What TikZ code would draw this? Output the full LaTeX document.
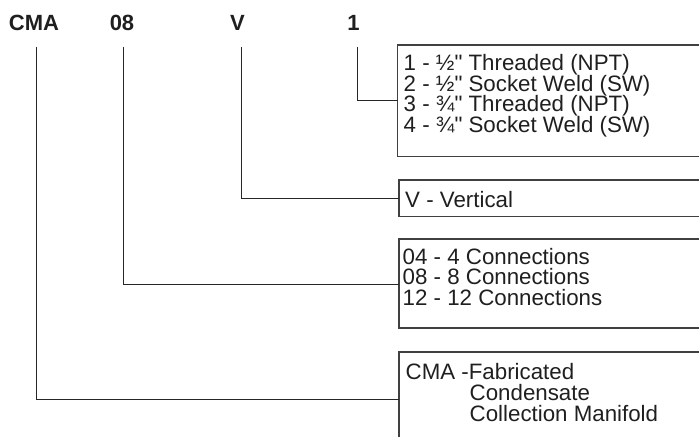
\documentclass[tikz,border=0pt]{standalone}
\usepackage{fontspec}
\setmainfont{Liberation Sans}[Ligatures=TeXOff]
\begin{document}
\begin{tikzpicture}[x=1pt,y=-1pt,
  title/.style={font=\bfseries\fontsize{22}{22}\selectfont, text=black!88, anchor=base, inner sep=0pt},
  boxtext/.style={font=\fontsize{22.3}{20.5}\selectfont, text=black!88, anchor=base west, inner sep=0pt},
  boxline/.style={draw=black!75, line width=1.3pt},
  conn/.style={draw=black!85, line width=1pt}]
\useasboundingbox (0,0) rectangle (699,437);
% title labels
\node[title] (cma) at (34,30) {CMA};
\node[title] (n08) at (122,30) {08};
\node[title] (v) at (237.5,30) {V};
\node[title] (one) at (353.5,30) {1};
% boxes (open at the right, running off the page)
\draw[boxline] (699,45) -- (397.5,45) -- (397.5,156.5) -- (699,156.5);
\draw[boxline] (699,180) -- (399,180) -- (399,216.5) -- (699,216.5);
\draw[boxline] (699,239) -- (399,239) -- (399,328) -- (699,328);
\draw[boxline] (699,352) -- (399,352) -- (399,437);
% connection points on the boxes
\coordinate (b1) at (397.5,100);
\coordinate (b2) at (399,198);
\coordinate (b3) at (399,284);
\coordinate (b4) at (399,399);
% box texts
\node[boxtext] (t1a) at (403.5,70.5) {1 - ½" Threaded (NPT)};
\node[boxtext] (t1b) at (403.5,91) {2 - ½" Socket Weld (SW)};
\node[boxtext] (t1c) at (403.5,111.5) {3 - ¾" Threaded (NPT)};
\node[boxtext] (t1d) at (403.5,132) {4 - ¾" Socket Weld (SW)};
\node[boxtext] (t2) at (405,207) {V - Vertical};
\node[boxtext] (t3a) at (402.5,264) {04 - 4 Connections};
\node[boxtext] (t3b) at (402.5,284.5) {08 - 8 Connections};
\node[boxtext] (t3c) at (402.5,305) {12 - 12 Connections};
\node[boxtext] (t4a) at (405.5,379.5) {CMA -Fabricated};
\node[boxtext] (t4b) at (469.5,400.5) {Condensate};
\node[boxtext] (t4c) at (469.5,421.5) {Collection Manifold};
% connectors
\draw[conn] ([xshift=2pt,yshift=-17pt]cma.base) |- (b4);
\draw[conn] ([xshift=1.3pt,yshift=-17pt]n08.base) |- (b3);
\draw[conn] ([xshift=4pt,yshift=-17pt]v.base) |- (b2);
\draw[conn] ([xshift=3.5pt,yshift=-17pt]one.base) |- (b1);
\end{tikzpicture}
\end{document}
